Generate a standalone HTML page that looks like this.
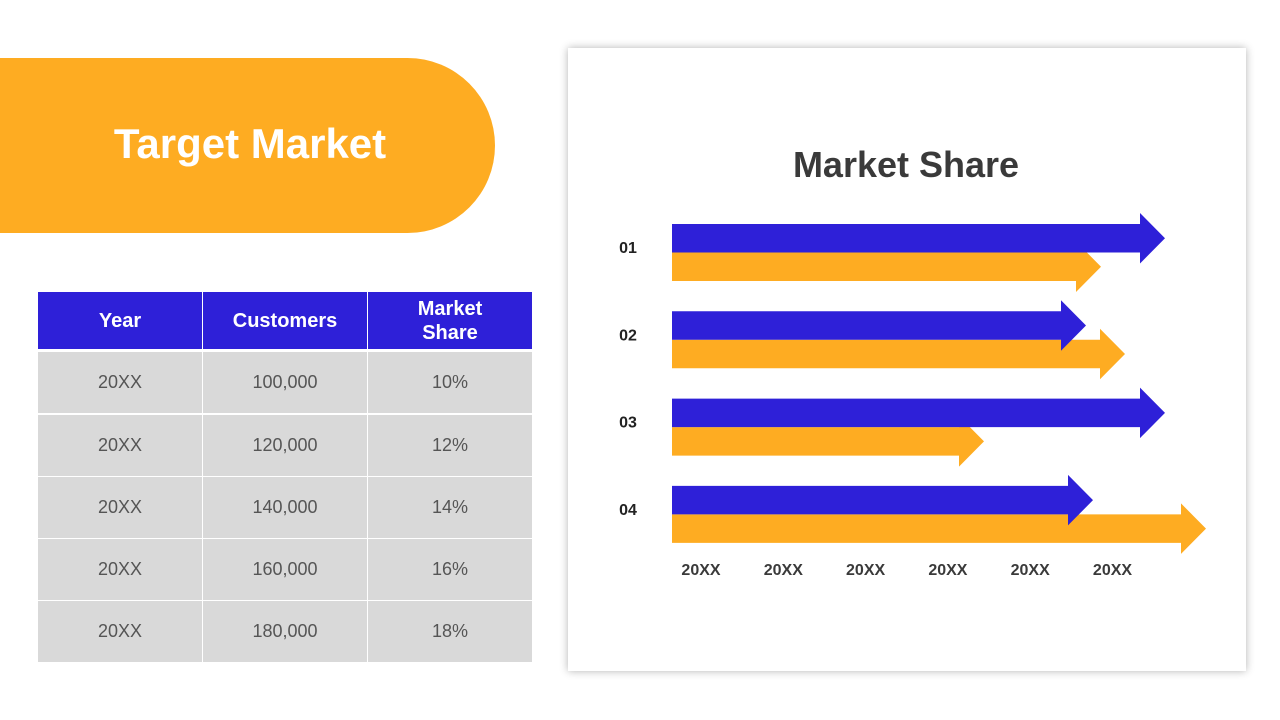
<!DOCTYPE html>
<html><head><meta charset="utf-8">
<style>
body{margin:0;width:1280px;height:720px;background:#fff;position:relative;overflow:hidden;font-family:"Liberation Sans",sans-serif}
.pill{position:absolute;left:0;top:58px;width:495px;height:175px;background:#FEAC22;border-radius:0 88px 88px 0}
.pill span{position:absolute;left:0;width:500px;top:62px;text-align:center;color:#fff;font-weight:bold;font-size:42px}
.cell{position:absolute;display:flex;align-items:center;justify-content:center;text-align:center}
.hd{background:#2E20D8;color:#fff;font-weight:bold;font-size:20px;line-height:24px}
.bd{background:#D9D9D9;color:#555;font-size:18px}
.card{position:absolute;left:568px;top:48px;width:678px;height:623px;background:#fff;box-shadow:0 0 8px rgba(0,0,0,0.3)}
</style></head><body>
<div class="pill"><span>Target Market</span></div>
<div id="tbl"></div>
<div class="card"></div>
<svg id="chart" width="1280" height="720" style="position:absolute;left:0;top:0"></svg>
<script>
const headers=["Year","Customers","Market<br>Share"];
const rows=[["20XX","100,000","10%"],["20XX","120,000","12%"],["20XX","140,000","14%"],["20XX","160,000","16%"],["20XX","180,000","18%"]];
const colX=[38,203,368],colW=164;
const rowY=[352,415,477,539,601],rowH=61;
const tbl=document.getElementById('tbl');
headers.forEach((h,i)=>{const d=document.createElement('div');d.className='cell hd';


d.style.cssText=`left:${colX[i]}px;top:292px;width:${colW}px;height:57px`;d.innerHTML=h;tbl.appendChild(d);});
rows.forEach((r,j)=>r.forEach((v,i)=>{const d=document.createElement('div');d.className='cell bd';


d.style.cssText=`left:${colX[i]}px;top:${rowY[j]}px;width:${colW}px;height:${rowH}px`;d.textContent=v;tbl.appendChild(d);}));

const categories=["01","02","03","04"];
const blueValues=[98.6,82.8,98.6,84.2];
const orangeValues=[85.8,90.6,62.4,106.8];
const xTickLabels=["20XX","20XX","20XX","20XX","20XX","20XX"];
const svg=document.getElementById('chart');const NS="http://www.w3.org/2000/svg";
const x=v=>672+v*5;
const rowTop=i=>224+i*87.3;
function el(t,a){const e=document.createElementNS(NS,t);for(const k in a)e.setAttribute(k,a[k]);svg.appendChild(e);return e;}
const t=el('text',{x:906,y:177,'text-anchor':'middle','font-size':36,'font-weight':'bold',fill:'#3a3a3a'});t.textContent="Market Share";


function arrow(y,v,color){const tip=x(v),base=tip-25,h=28.5;
const p=el('polygon',{fill:color,points:`672,${y} ${base},${y} ${base},${y-11} ${tip},${y+h/2} ${base},${y+h+11} ${base},${y+h} 672,${y+h}`});return p;}
categories.forEach((c,i)=>{const y=rowTop(i);
const o=arrow(y+28.5,orangeValues[i],'#FEAC22');


const b=arrow(y,blueValues[i],'#2E20D8');


const l=el('text',{x:628,y:y+29,'text-anchor':'middle','font-size':16,'font-weight':'bold',fill:'#222'});l.textContent=c;


});
xTickLabels.forEach((s,i)=>{const l=el('text',{x:701+i*82.3,y:575,'text-anchor':'middle','font-size':16,'font-weight':'bold',fill:'#3a3a3a'});l.textContent=s;


});
</script>
</body></html>
